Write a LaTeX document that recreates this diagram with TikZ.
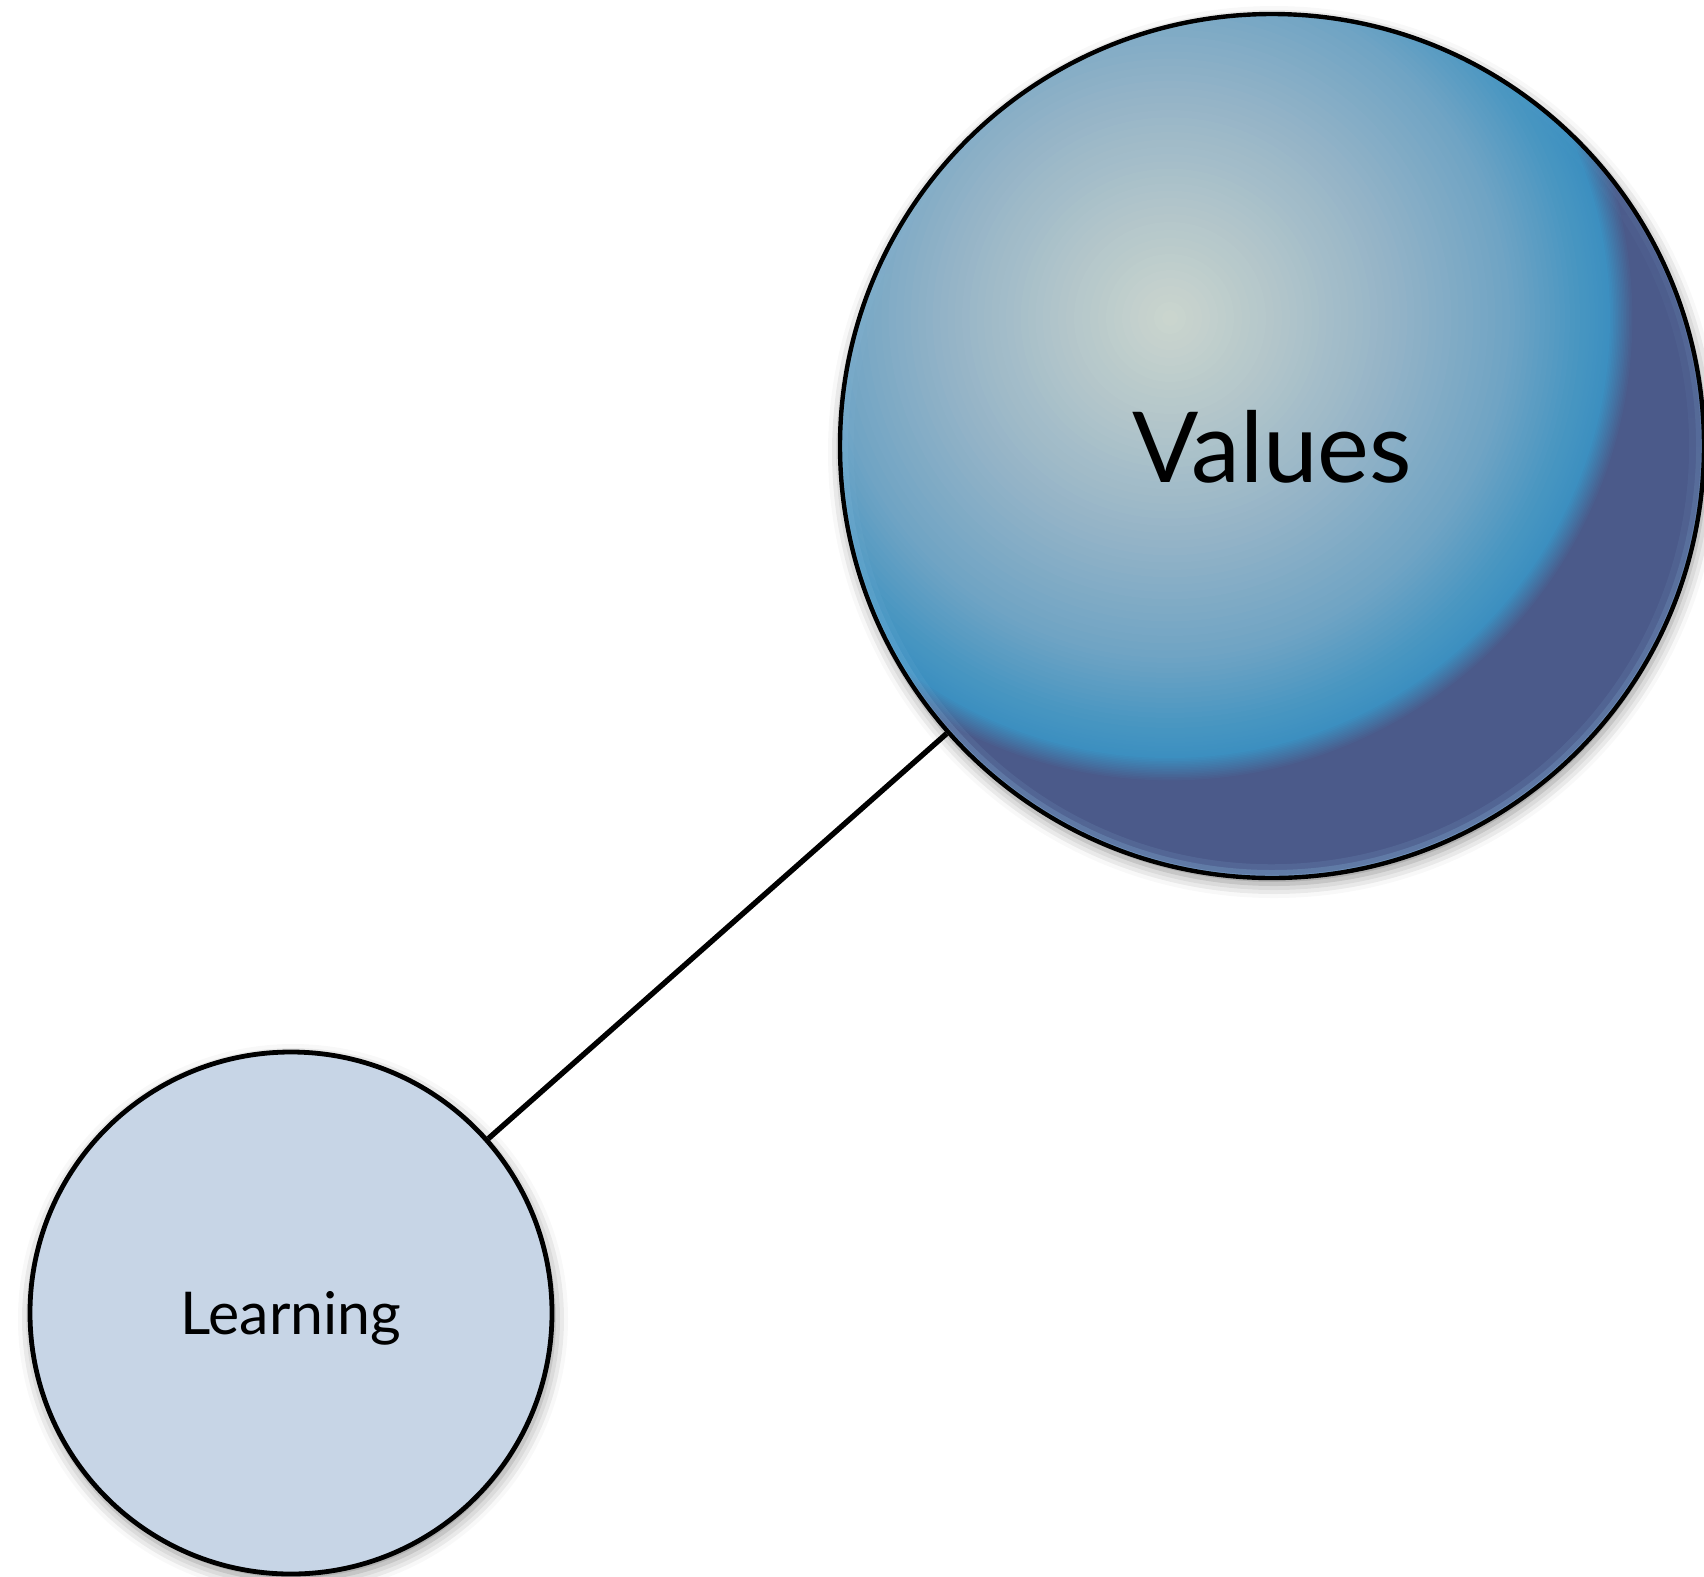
\documentclass[tikz,border=0pt]{standalone}
\usepackage{fontspec}
\setmainfont{Lato}
\usetikzlibrary{shadows.blur,backgrounds,fadings}
\definecolor{vc0}{HTML}{CCD6CE}
\definecolor{vc1}{HTML}{B0C4CA}
\definecolor{vc2}{HTML}{93B3C7}
\definecolor{vc3}{HTML}{70A4C4}
\definecolor{vc4}{HTML}{4695C1}
\definecolor{vc5}{HTML}{3C8FC0}
\definecolor{vdark}{HTML}{4B5A8A}
\definecolor{rimblue}{HTML}{92C6EA}
\definecolor{learnfill}{HTML}{C7D5E6}
\tikzset{
  ballshadow/.style={blur shadow={shadow xshift=1pt, shadow yshift=-3pt,
      shadow blur radius=7pt, shadow opacity=45}},
  glowstep/.style={draw=none},
  bigball/.style={circle, draw=black, line width=2.2pt, inner sep=0pt,
      minimum size=432pt, fill=vdark, ballshadow,
      path picture={
        \coordinate (hl) at ([shift={(-102,-128)}]path picture bounding box.center);
        % concentric glow around the highlight (radii in reference pixels)
        \foreach \rb/\cb/\ra/\ca in {464/vdark/440/vc5, 440/vc5/415/vc4,
            415/vc4/340/vc3, 340/vc3/230/vc2, 230/vc2/120/vc1, 120/vc1/0/vc0}{
          \foreach \k in {0,...,14}{
            \pgfmathsetmacro{\rr}{\rb-(\rb-\ra)*\k/15}
            \pgfmathsetmacro{\pp}{100*\k/15}
            \fill[glowstep, \ca!\pp!\cb] (hl) circle[radius=\rr];
          }
        }
        \foreach \w/\o in {3/0.35,8/0.22,14/0.12}{
          \draw[draw=rimblue, line width=\w pt, draw opacity=\o, path fading=north]
            (path picture bounding box.center) circle[radius=432];}
      },
      font=\fontsize{49}{58}\selectfont, text height=36.5pt, text depth=0pt},
  smallball/.style={circle, draw=black, line width=2.4pt, inner sep=0pt,
      minimum size=261pt, fill=learnfill, ballshadow,
      font=\fontsize{29.5}{36}\selectfont, text height=21.5pt, text depth=0pt},
  link/.style={draw=black, line width=2.7pt}
}
\begin{document}
\begin{tikzpicture}[x=0.5pt,y=-0.5pt]
\useasboundingbox (0,0) rectangle (1704,1576);
\node[bigball] (values) at (1272,446) {Values};
\node[smallball] (learning) at (291,1313) {Learning};
\begin{pgfonlayer}{background}
\draw[link] (values) -- (learning);
\end{pgfonlayer}
\end{tikzpicture}
\end{document}
